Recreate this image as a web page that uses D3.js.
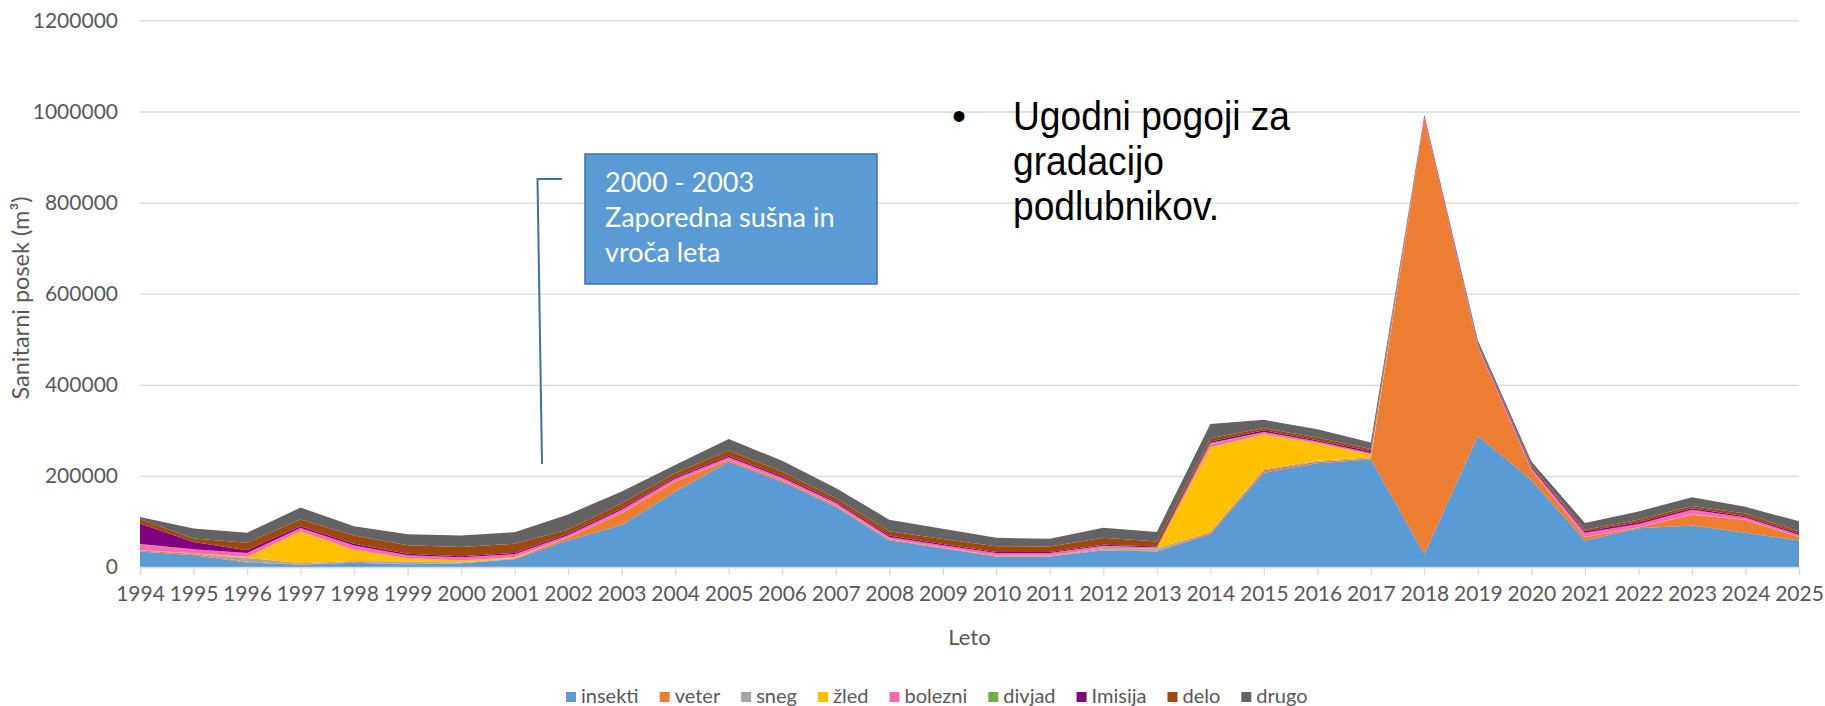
<!DOCTYPE html>
<html>
<head>
<meta charset="utf-8">
<script src="https://cdn.jsdelivr.net/npm/d3@7"></script>
<style>
  body { margin: 0; background: #fff; }
  svg text { font-family: Lato, "Open Sans", sans-serif; }
</style>
</head>
<body>
<script>

// data (m3 per year)
var years = d3.range(1994, 2026);

var insekti = [34000, 26000, 10000, 5000, 9500, 6000, 8000, 17000, 59000, 92000,
               165000, 231000, 187000, 132000, 59000, 41000, 23000, 23000, 37000, 34000,
               72000, 207000, 228000, 236000, 28500, 287500, 191000, 58000, 85000, 91000,
               75000, 58000];
var veter   = [2000, 3000, 1500, 500, 2000, 500, 500, 1500, 5000, 26000,
               22000, 3500, 3500, 3000, 2000, 1500, 1500, 1500, 1500, 1500,
               3500, 5500, 3000, 2500, 957000, 196000, 22000, 7500, 1500, 23500,
               28000, 7500];
var sneg    = [1500, 1000, 8500, 3000, 1500, 5500, 1500, 1000, 500, 500,
               500, 500, 500, 500, 500, 500, 500, 500, 3000, 5000,
               1500, 2000, 2500, 2000, 500, 500, 500, 500, 1000, 1500,
               1000, 500];
var zled    = [0, 0, 2000, 70000, 25000, 7500, 4500, 2000, 0, 0,
               0, 0, 0, 0, 0, 0, 0, 0, 0, 500,
               186000, 77000, 38000, 6500, 0, 0, 0, 0, 0, 0,
               0, 0];
var bolezni = [12000, 9000, 9000, 7000, 9000, 6500, 7000, 6500, 5000, 7000,
               6000, 6000, 5000, 5500, 4500, 4500, 6000, 6000, 4500, 2000,
               7000, 4500, 4000, 3500, 2000, 3000, 4000, 9000, 7000, 9500,
               4500, 4500];
var divjad  = [1000, 0, 0, 0, 0, 0, 0, 0, 0, 0,
               0, 0, 0, 0, 0, 0, 0, 0, 500, 0,
               2000, 500, 0, 0, 0, 0, 0, 0, 0, 0,
               0, 0];
var imisija = [45000, 16000, 6000, 4000, 4000, 3000, 2000, 3000, 3500, 3500,
               3000, 3500, 3500, 3500, 3000, 3000, 2000, 2000, 2500, 2000,
               3500, 3500, 3000, 3500, 3500, 3000, 3000, 3500, 3500, 3500,
               3000, 3000];
var delo    = [10000, 7500, 16000, 15000, 18000, 19000, 20500, 20000, 9500, 11000,
               9500, 11000, 9500, 7000, 9500, 11000, 12500, 12000, 15000, 11000,
               7000, 5000, 6000, 5000, 0, 2000, 3000, 3500, 6000, 5000,
               6000, 5000];
var drugo   = [4000, 22000, 22000, 26000, 20500, 24000, 25000, 25500, 33000, 25500,
               18000, 25700, 24000, 22000, 25500, 22500, 18500, 17000, 22000, 21000,
               31500, 18000, 18000, 14500, 0, 5000, 8000, 14500, 18000, 19000,
               14500, 22000];

var seriesNames  = ["insekti", "veter", "sneg", "žled", "bolezni", "divjad", "Imisija", "delo", "drugo"];
var seriesValues = [insekti, veter, sneg, zled, bolezni, divjad, imisija, delo, drugo];
var seriesColors = ["#5B9BD5", "#ED7D31", "#A5A5A5", "#FFC000", "#FF69B4", "#70AD47", "#800080", "#9E480E", "#636363"];

var yTicks = [0, 200000, 400000, 600000, 800000, 1000000, 1200000];

// build table for d3.stack
var table = years.map(function (yr, i) {
  var row = { year: yr };
  seriesNames.forEach(function (n, k) { row[n] = seriesValues[k][i]; });
  return row;
});

var width = 1825, height = 706;
var plotL = 140, plotR = 1799, plotT = 20.4, plotB = 567;

var svg = d3.select("body").append("svg")
  .attr("width", width)
  .attr("height", height);

var x = d3.scaleLinear().domain([1994, 2025]).range([plotL, plotR]);
var y = d3.scaleLinear().domain([0, 1200000]).range([plotB, plotT]);

// gridlines
svg.append("g")
  .attr("transform", "translate(" + plotL + ",0)")
  .call(d3.axisLeft(y).tickValues(yTicks).tickSize(-(plotR - plotL)).tickFormat(""))
  .call(function (g) {
    g.select(".domain").remove();
    g.selectAll("line").attr("stroke", "#D9D9D9").attr("stroke-width", 1.3);
  });

// y labels
svg.append("g")
  .attr("transform", "translate(" + plotL + ",0)")
  .call(d3.axisLeft(y).tickValues(yTicks).tickSize(0).tickPadding(22).tickFormat(d3.format("d")))
  .call(function (g) {
    g.select(".domain").remove();
    g.selectAll("text")
      .style("font-family", "Lato")
      .style("font-size", "21px")
      .attr("fill", "#595959");
  });

// stacked areas
var stack = d3.stack().keys(seriesNames);
var layers = stack(table);

var area = d3.area()
  .x(function (d) { return x(d.data.year); })
  .y0(function (d) { return y(d[0]); })
  .y1(function (d) { return y(d[1]); });

svg.append("g")
  .selectAll("path")
  .data(layers)
  .enter()
  .append("path")
  .attr("d", area)
  .attr("fill", function (d, i) { return seriesColors[i]; });

// x axis
svg.append("g")
  .attr("transform", "translate(0," + plotB + ")")
  .call(d3.axisBottom(x).tickValues(years).tickSize(8).tickPadding(11).tickFormat(d3.format("d")))
  .call(function (g) {
    g.select(".domain").attr("stroke", "#D9D9D9").attr("stroke-width", 1.3);
    g.selectAll("line").attr("stroke", "#D9D9D9").attr("stroke-width", 1.3);
    g.selectAll("text")
      .style("font-family", "Lato")
      .style("font-size", "21px")
      .attr("fill", "#595959");
  });

// axis titles
svg.append("text")
  .attr("x", (plotL + plotR) / 2)
  .attr("y", 645)
  .attr("text-anchor", "middle")
  .style("font-size", "22px")
  .attr("fill", "#595959")
  .text("Leto");

svg.append("text")
  .attr("transform", "translate(29,298) rotate(-90)")
  .attr("text-anchor", "middle")
  .style("font-size", "23.5px")
  .attr("fill", "#595959")
  .text("Sanitarni posek (m³)");

// legend
var legend = svg.append("g");
var lx = 566;
seriesNames.forEach(function (n, i) {
  legend.append("rect")
    .attr("x", lx).attr("y", 692)
    .attr("width", 10).attr("height", 10)
    .attr("fill", seriesColors[i]);
  var t = legend.append("text")
    .attr("x", lx + 15).attr("y", 703)
    .style("font-size", "20px")
    .attr("fill", "#595959")
    .text(n);
  lx += 15 + t.node().getComputedTextLength() + 21;
});

// annotation: connector + box
svg.append("path")
  .attr("d", "M562,179 L537.5,179 L542,464")
  .attr("fill", "none")
  .attr("stroke", "#41719C")
  .attr("stroke-width", 2);

svg.append("rect")
  .attr("x", 585).attr("y", 154)
  .attr("width", 292).attr("height", 130)
  .attr("fill", "#5B9BD5")
  .attr("stroke", "#41719C")
  .attr("stroke-width", 1.5);

var boxLines = ["2000 - 2003", "Zaporedna sušna in", "vroča leta"];
boxLines.forEach(function (s, i) {
  svg.append("text")
    .attr("x", 605).attr("y", 192 + i * 35)
    .style("font-size", "27px")
    .attr("fill", "#fff")
    .text(s);
});

// bullet note (text is a bit narrow in the original)
var note = svg.append("g").attr("fill", "#000");
note.append("text").attr("x", 952).attr("y", 130)
  .style("font-family", "'Liberation Sans', Arial, sans-serif")
  .style("font-size", "40px")
  .text("•");
var noteLines = note.append("g")
  .attr("transform", "translate(1013,0) scale(0.93,1)");
["Ugodni pogoji za", "gradacijo", "podlubnikov."].forEach(function (s, i) {
  noteLines.append("text")
    .attr("x", 0).attr("y", 130 + i * 45)
    .style("font-family", "'Liberation Sans', Arial, sans-serif")
    .style("font-size", "40px")
    .text(s);
});

</script>
</body>
</html>
